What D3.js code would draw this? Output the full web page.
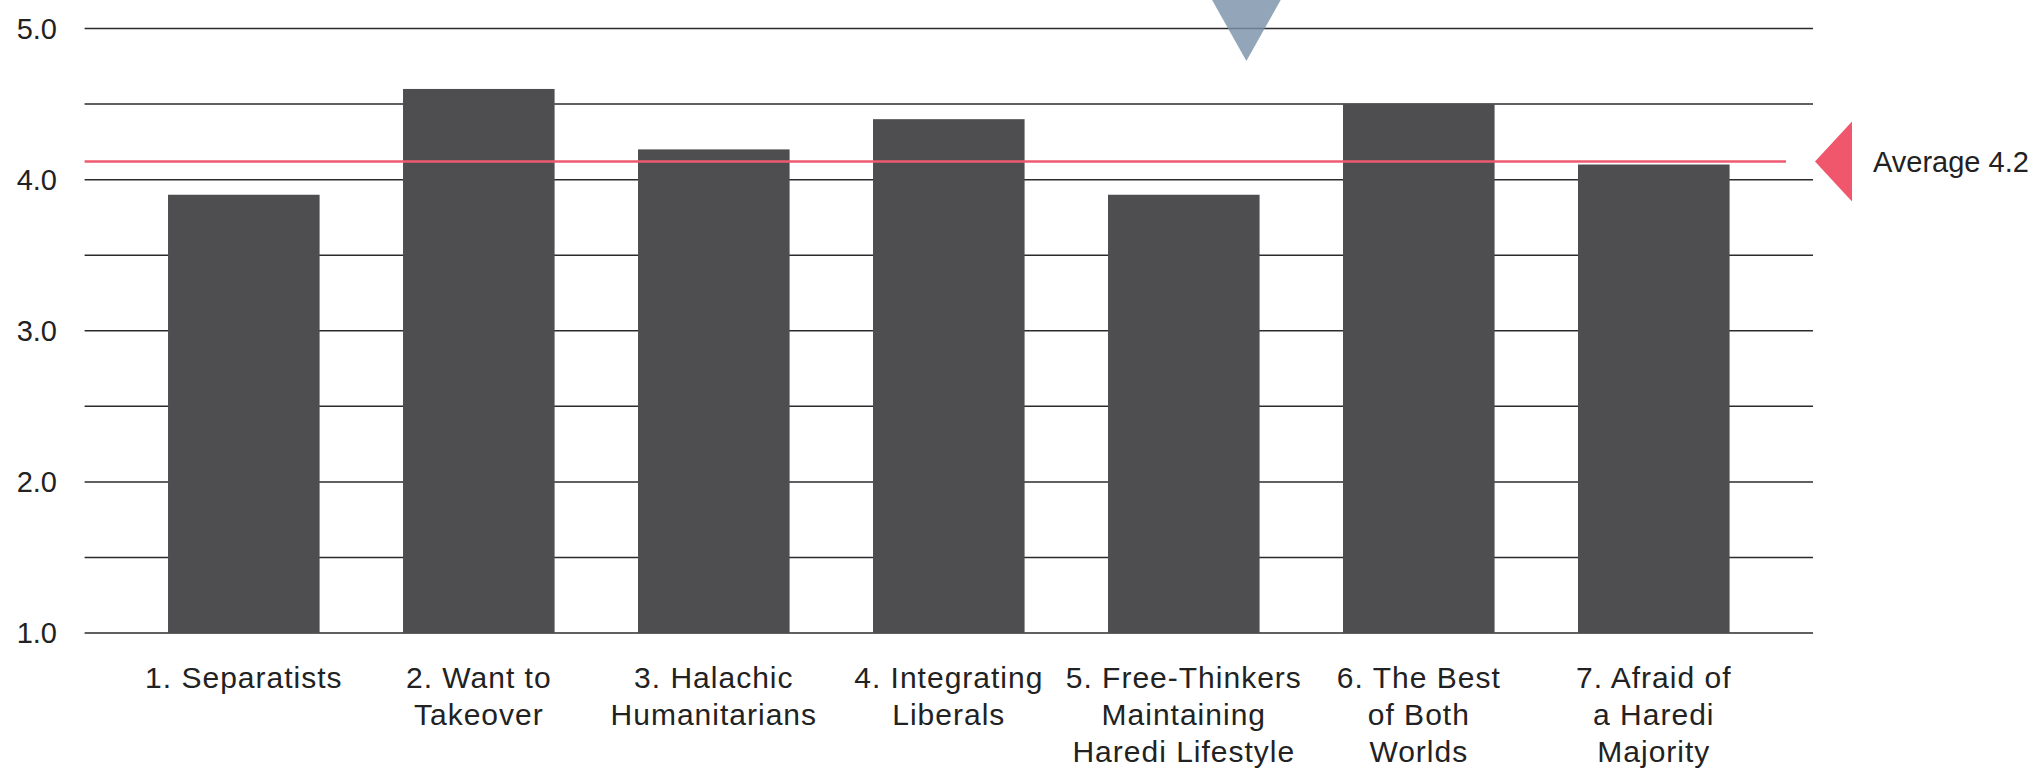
<!DOCTYPE html>
<html>
<head>
<meta charset="utf-8">
<script src="https://cdn.jsdelivr.net/npm/d3@7"></script>
<style>
  html, body { margin: 0; padding: 0; background: #fff; }
  svg { display: block; }
  text { font-family: "Liberation Sans", Arial, sans-serif; fill: #222; }
</style>
</head>
<body>
<svg id="chart" width="2040" height="770"></svg>
<script>
// ---- data ----
const categories = [
  ["1. Separatists"],
  ["2. Want to", "Takeover"],
  ["3. Halachic", "Humanitarians"],
  ["4. Integrating", "Liberals"],
  ["5. Free-Thinkers", "Maintaining", "Haredi Lifestyle"],
  ["6. The Best", "of Both", "Worlds"],
  ["7. Afraid of", "a Haredi", "Majority"]
];
const values = [3.9, 4.6, 4.2, 4.4, 3.9, 4.5, 4.1];
const tickValues = [1, 2, 3, 4, 5];
const tickLabels = ["1.0", "2.0", "3.0", "4.0", "5.0"];
const gridValues = [1, 1.5, 2, 2.5, 3, 3.5, 4, 4.5, 5];
const averageLineValue = 4.12;
const averageLabel = "Average 4.2";
const markerCategoryIndex = 4;   // blue marker near category 5
const markerBandFraction = 0.913;
const markerTipValue = 4.785;

// ---- layout ----
(function () {
const svg = d3.select("#chart");
const mLeft = 84.6, mRight = 1813, mTop = 28.5, mBottom = 633;
const keys = categories.map((c, i) => "c" + i);

const x = d3.scaleBand().domain(keys).range([mLeft, mRight]).padding(0.355);
const y = d3.scaleLinear().domain([1, 5]).range([mBottom, mTop]);

// gridlines
svg.append("g").selectAll("line").data(gridValues).join("line")
  .attr("x1", mLeft).attr("x2", mRight)
  .attr("y1", d => y(d)).attr("y2", d => y(d))
  .attr("stroke", "#2b2b2b").attr("stroke-width", 1.5);

// y tick labels
svg.append("g").selectAll("text").data(tickValues).join("text")
  .attr("x", 57).attr("y", d => y(d)).attr("dy", "0.35em")
  .attr("text-anchor", "end")
  .attr("font-size", 29)
  .text((d, i) => tickLabels[i]);

// bars
svg.append("g").selectAll("rect").data(values).join("rect")
  .attr("x", (d, i) => x(keys[i]))
  .attr("width", x.bandwidth())
  .attr("y", d => y(d))
  .attr("height", d => y(1) - y(d))
  .attr("fill", "#4e4e50");

// category labels
const lab = svg.append("g").selectAll("text").data(categories).join("text")
  .attr("text-anchor", "middle")
  .attr("font-size", 30)
  .attr("letter-spacing", 1)
  .attr("transform", (d, i) => `translate(${x(keys[i]) + x.bandwidth() / 2},688)`);
lab.selectAll("tspan").data(d => d).join("tspan")
  .attr("x", 0).attr("y", (d, j) => j * 37.2)
  .text(d => d);

// average line
const ay = y(averageLineValue);
svg.append("line")
  .attr("x1", mLeft).attr("x2", 1786)
  .attr("y1", ay).attr("y2", ay)
  .attr("stroke", "#ee5a70").attr("stroke-width", 2.5);

// average triangle marker
svg.append("path")
  .attr("d", `M1815,${ay} L1852,${ay - 40} L1852,${ay + 40} Z`)
  .attr("fill", "#f0566c");

svg.append("text")
  .attr("x", 1873).attr("y", ay).attr("dy", "0.35em")
  .attr("font-size", 29)
  .text(averageLabel);

// blue marker triangle
const mx = x(keys[markerCategoryIndex]) + x.bandwidth() * markerBandFraction;
const my = y(markerTipValue);
svg.append("path")
  .attr("d", `M${mx - 36},${my - 64} L${mx + 36},${my - 64} L${mx},${my} Z`)
  .attr("fill", "#7b93a9").attr("fill-opacity", 0.82);
})();
</script>
</body>
</html>
